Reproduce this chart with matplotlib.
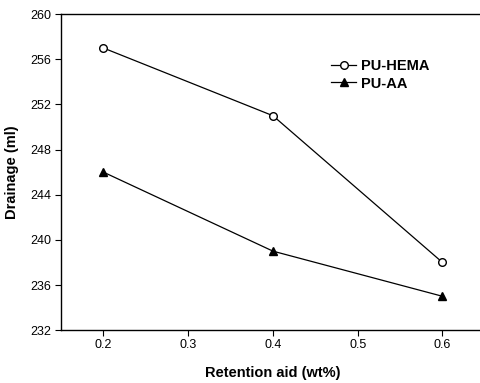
import matplotlib.pyplot as plt

# retention aid dosage (wt%) vs drainage (ml)
dosage = [0.2, 0.4, 0.6]
pu_hema = [257, 251, 238]
pu_aa = [246, 239, 235]

plt.rcParams['font.family'] = ['Liberation Sans', 'DejaVu Sans']

fig = plt.figure(figsize=(4.81, 3.83), dpi=100)
ax = fig.add_axes([0.127, 0.138, 0.881, 0.825])

ax.plot(dosage, pu_hema, '-o', color='black', mfc='white', mec='black',
        ms=5.5, lw=0.9, label='PU-HEMA')
ax.plot(dosage, pu_aa, '-^', color='black', ms=5.5, lw=0.9, label='PU-AA')

ax.set_xlim(0.15, 0.65)
ax.set_ylim(232, 260)
ax.set_xticks([0.2, 0.3, 0.4, 0.5, 0.6])
ax.set_yticks(range(232, 261, 4))
ax.tick_params(direction='out', length=4, width=0.8, labelsize=9, pad=3)
ax.tick_params(axis='x', pad=2.5)

ax.set_xlabel('Retention aid (wt%)', fontsize=10.5, fontweight='bold', labelpad=11)
ax.set_ylabel('Drainage (ml)', fontsize=10.5, fontweight='bold', labelpad=8)

for s in ax.spines.values():
    s.set_linewidth(1.0)
ax.spines['right'].set_visible(False)

leg = ax.legend(loc='upper left', bbox_to_anchor=(0.607, 0.9), frameon=False,
                prop={'weight': 'bold', 'size': 10.5}, handlelength=1.7,
                handletextpad=0.3, labelspacing=0.25)

fig.savefig('out.png', dpi=100)
